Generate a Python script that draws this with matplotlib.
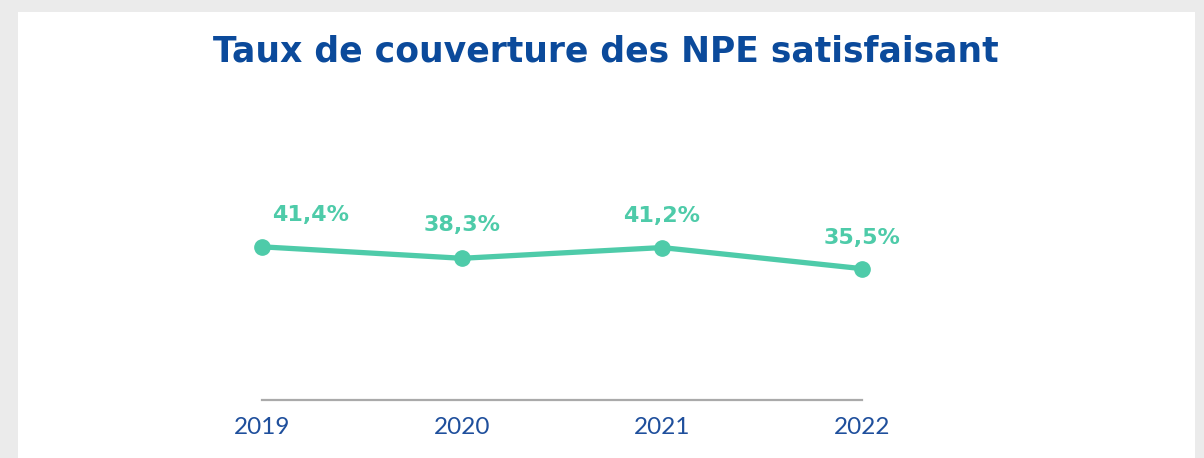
import matplotlib
matplotlib.use("Agg")
import matplotlib.pyplot as plt
from matplotlib.patches import Rectangle

years = ["2019", "2020", "2021", "2022"]
values = [41.4, 38.3, 41.2, 35.5]
labels = ["41,4%", "38,3%", "41,2%", "35,5%"]
title = "Taux de couverture des NPE satisfaisant"

W, H = 1204, 458
fig = plt.figure(figsize=(W / 100, H / 100), dpi=100)
fig.patch.set_facecolor("#ebebeb")
fig.patches.append(Rectangle((18 / W, 0), (1195 - 18) / W, (H - 12) / H,
                             transform=fig.transFigure, facecolor="white",
                             edgecolor="none", zorder=-10))

ax = fig.add_axes([262 / W, 58 / H, 600 / W, 222 / H])
ax.set_facecolor("none")
x = list(range(len(years)))
green = "#4ecba9"
ax.plot(x, values, color=green, lw=3.8, marker="o", markersize=11,
        solid_capstyle="round", clip_on=False, zorder=3)
ax.set_xlim(0, 3)
ax.set_ylim(0, 60)

offsets = [(49, 32), (0, 33), (0, 32), (0, 31)]
for xi, v, lab, (dx, dy) in zip(x, values, labels, offsets):
    ax.annotate(lab, (xi, v), xytext=(dx * 0.72, dy * 0.72), textcoords="offset points",
                ha="center", va="center", fontsize=16, fontweight="bold",
                color=green, family="DejaVu Sans")

for s in ["top", "right", "left"]:
    ax.spines[s].set_visible(False)
ax.spines["bottom"].set_color("#aaaaaa")
ax.spines["bottom"].set_linewidth(1.6)
ax.set_yticks([])
ax.set_xticks(x)
ax.set_xticklabels(years, color="#1f4f9c", fontsize=17.5, family="Lato",
                   fontweight="normal")
ax.tick_params(axis="x", length=0, pad=12)

fig.text(606 / W, 1 - 52 / H, title, ha="center", va="center",
         fontsize=24.9, fontweight="bold", color="#0b4a9b", family="DejaVu Sans")

fig.savefig("out.png", dpi=100, facecolor=fig.get_facecolor())
